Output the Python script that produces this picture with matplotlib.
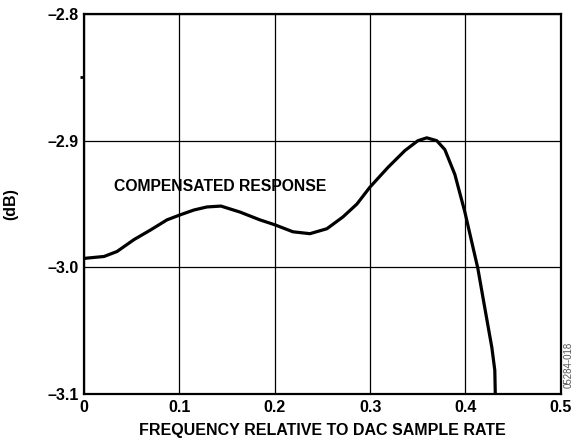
import numpy as np
import matplotlib.pyplot as plt

plt.rcParams['font.family'] = ['Liberation Sans', 'DejaVu Sans']
plt.rcParams['font.weight'] = 'bold'

# Verdier lest av fra figuren
freq = [0.0, 0.003, 0.021, 0.0346, 0.0524, 0.0702, 0.087, 0.1006, 0.1153, 0.1289,
        0.1436, 0.1635, 0.1845, 0.2002, 0.2191, 0.2369, 0.2547, 0.2715, 0.2862, 0.2998,
        0.3187, 0.3365, 0.3501, 0.3595, 0.37, 0.3784, 0.3889, 0.3994, 0.413, 0.4203,
        0.4277, 0.4308, 0.4313]
respons = [-2.993, -2.9927, -2.9914, -2.9875, -2.9781, -2.9703, -2.9625, -2.9586, -2.9547, -2.9523,
           -2.9516, -2.9563, -2.9625, -2.9664, -2.9719, -2.9734, -2.9695, -2.9602, -2.950, -2.9367,
           -2.9211, -2.9078, -2.900, -2.8977, -2.900, -2.907, -2.9266, -2.9563, -3.0008, -3.032,
           -3.0633, -3.0813, -3.1]

x_ticks = [0, 0.1, 0.2, 0.3, 0.4, 0.5]
x_labels = ['0', '0.1', '0.2', '0.3', '0.4', '0.5']
y_ticks = [-3.1, -3.0, -2.9, -2.8]
y_labels = ['\u20133.1', '\u20133.0', '\u20132.9', '\u20132.8']

fig = plt.figure(figsize=(5.74, 4.41), dpi=100)
ax = fig.add_axes([0.1463, 0.1066, 0.977 - 0.1463, 0.968 - 0.1066])

ax.plot(freq, respons, color='black', linewidth=2.3, solid_joinstyle='round',
        solid_capstyle='butt')

ax.set_xlim(0, 0.5)
ax.set_ylim(-3.1, -2.8)
ax.set_xticks(x_ticks)
ax.set_xticklabels(x_labels, fontsize=11.5, fontweight='bold')
ax.set_yticks(y_ticks)
ax.set_yticklabels(y_labels, fontsize=11.5, fontweight='bold')
ax.tick_params(axis='both', length=0, pad=4)
ax.set_yticks([-2.85], minor=True)
ax.tick_params(axis='y', which='minor', length=3, width=2, direction='out')

ax.grid(True, color='black', linewidth=0.9)
for s in ax.spines.values():
    s.set_linewidth(1.6)

ax.set_xlabel('FREQUENCY RELATIVE TO DAC SAMPLE RATE', fontsize=11.5, fontweight='bold', labelpad=6)
ax.set_ylabel('(dB)', fontsize=11.5, fontweight='bold', labelpad=21)

ax.text(0.143, -2.936, 'COMPENSATED RESPONSE', fontsize=11.3, fontweight='bold',
        ha='center', va='center')

fig.text(0.99, 0.172, '05284-018', rotation=90, fontsize=7, color='#555555',
         fontweight='normal', ha='center', va='center')

plt.savefig('out.png', dpi=100)
